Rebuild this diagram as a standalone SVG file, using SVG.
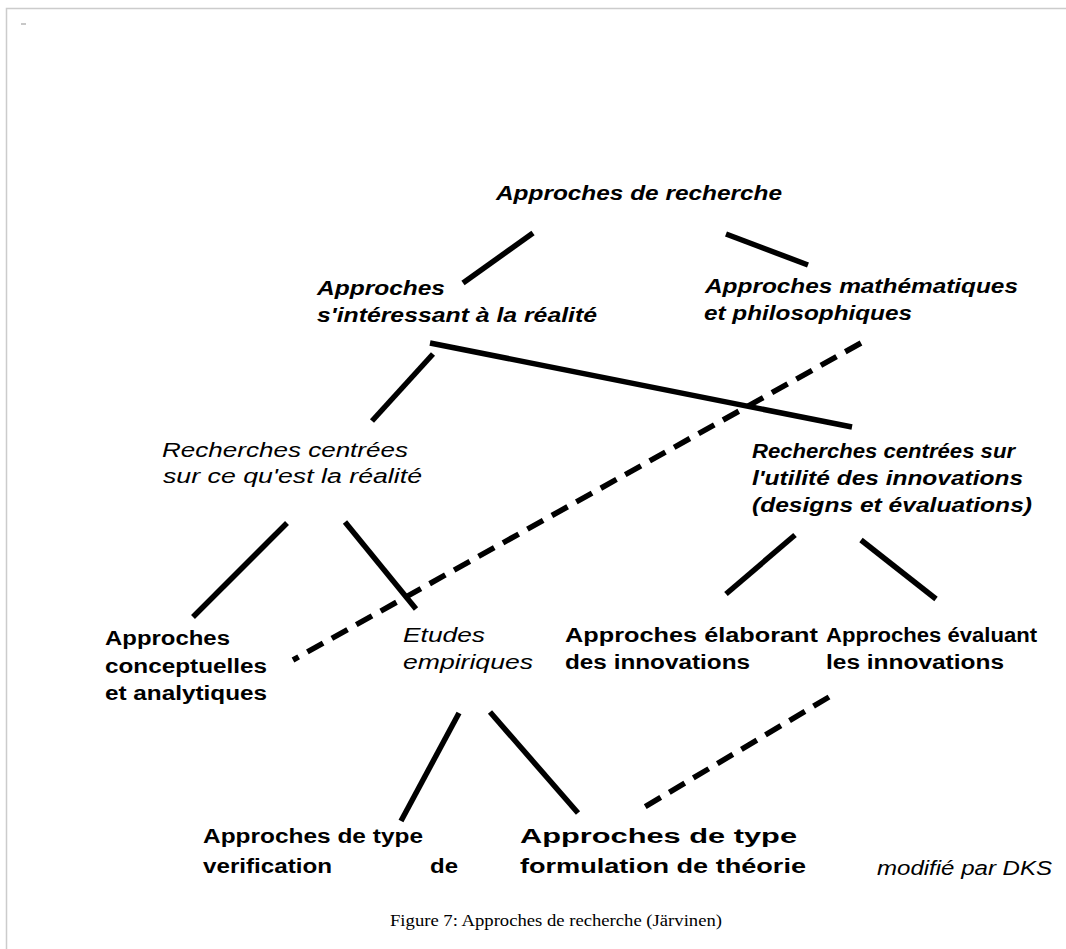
<svg xmlns="http://www.w3.org/2000/svg" width="1066" height="949" viewBox="0 0 1066 949">
  <style>
    .t { font-family: "Liberation Sans", Arial, sans-serif; font-size: 20px; fill: #000; }
    .bi { font-weight: bold; font-style: italic; }
    .i { font-style: italic; }
    .b { font-weight: bold; }
    .edge { stroke: #000; stroke-width: 5.5; fill: none; }
    .dash { stroke-dasharray: 18 10; }
    .cap { font-family: "Liberation Serif", "Times New Roman", serif; font-size: 16.5px; fill: #000; }
  </style>

  <!-- page frame -->
  <rect x="0" y="0" width="1066" height="949" fill="#fff"/>
  <path d="M6.5 949 V8.5 H1066" stroke="#cccccc" stroke-width="1.5" fill="none"/>
  <rect x="21" y="23" width="5" height="2" fill="#c8c8c8"/>

  <!-- connectors -->
  <g id="connectors">
    <line class="edge" x1="463" y1="283" x2="533" y2="233"/>
    <line class="edge" x1="726" y1="234" x2="808" y2="265"/>
    <line class="edge" x1="433" y1="354" x2="372" y2="421"/>
    <line class="edge" x1="430" y1="343" x2="852" y2="427"/>
    <line class="edge dash" x1="861" y1="343" x2="293" y2="660"/>
    <line class="edge" x1="287" y1="523" x2="193" y2="617"/>
    <line class="edge" x1="345" y1="522" x2="416" y2="609"/>
    <line class="edge" x1="795" y1="535" x2="726" y2="594"/>
    <line class="edge" x1="861" y1="540" x2="936" y2="599"/>
    <line class="edge" x1="459" y1="713" x2="401" y2="821"/>
    <line class="edge" x1="490" y1="712" x2="578" y2="813"/>
    <line class="edge dash" x1="829" y1="697" x2="638" y2="811"/>
  </g>

  <!-- nodes -->
  <g id="root">
    <text class="t bi" x="496" y="200" textLength="286" lengthAdjust="spacingAndGlyphs">Approches de recherche</text>
  </g>
  <g id="realite">
    <text class="t bi" x="317" y="295" textLength="128" lengthAdjust="spacingAndGlyphs">Approches</text>
    <text class="t bi" x="317" y="322" textLength="280" lengthAdjust="spacingAndGlyphs">s'intéressant à la réalité</text>
  </g>
  <g id="math-philo">
    <text class="t bi" x="705" y="293" textLength="313" lengthAdjust="spacingAndGlyphs">Approches mathématiques</text>
    <text class="t bi" x="704" y="320" textLength="208" lengthAdjust="spacingAndGlyphs">et philosophiques</text>
  </g>
  <g id="centrees-realite">
    <text class="t i" x="162" y="457" textLength="246" lengthAdjust="spacingAndGlyphs">Recherches centrées</text>
    <text class="t i" x="163" y="483" textLength="259" lengthAdjust="spacingAndGlyphs">sur ce qu'est la réalité</text>
  </g>
  <g id="centrees-utilite">
    <text class="t bi" x="752" y="458" textLength="263" lengthAdjust="spacingAndGlyphs">Recherches centrées sur</text>
    <text class="t bi" x="752" y="485" textLength="271" lengthAdjust="spacingAndGlyphs">l'utilité des innovations</text>
    <text class="t bi" x="752" y="512" textLength="280" lengthAdjust="spacingAndGlyphs">(designs et évaluations)</text>
  </g>
  <g id="conceptuelles">
    <text class="t b" x="105" y="645" textLength="125" lengthAdjust="spacingAndGlyphs">Approches</text>
    <text class="t b" x="105" y="673" textLength="162" lengthAdjust="spacingAndGlyphs">conceptuelles</text>
    <text class="t b" x="105" y="700" textLength="162" lengthAdjust="spacingAndGlyphs">et analytiques</text>
  </g>
  <g id="empiriques">
    <text class="t i" x="403" y="642" textLength="82" lengthAdjust="spacingAndGlyphs">Etudes</text>
    <text class="t i" x="403" y="669" textLength="130" lengthAdjust="spacingAndGlyphs">empiriques</text>
  </g>
  <g id="elaborant">
    <text class="t b" x="565" y="642" textLength="253" lengthAdjust="spacingAndGlyphs">Approches élaborant</text>
    <text class="t b" x="565" y="669" textLength="185" lengthAdjust="spacingAndGlyphs">des innovations</text>
  </g>
  <g id="evaluant">
    <text class="t b" x="826" y="642" textLength="211" lengthAdjust="spacingAndGlyphs">Approches évaluant</text>
    <text class="t b" x="826" y="669" textLength="178" lengthAdjust="spacingAndGlyphs">les innovations</text>
  </g>
  <g id="verification">
    <text class="t b" x="203" y="843" textLength="220" lengthAdjust="spacingAndGlyphs">Approches de type</text>
    <text class="t b" x="203" y="873" textLength="129" lengthAdjust="spacingAndGlyphs">verification</text>
    <text class="t b" x="430" y="873" textLength="28" lengthAdjust="spacingAndGlyphs">de</text>
  </g>
  <g id="formulation">
    <text class="t b" x="520" y="843" textLength="277" lengthAdjust="spacingAndGlyphs">Approches de type</text>
    <text class="t b" x="520" y="873" textLength="286" lengthAdjust="spacingAndGlyphs">formulation de théorie</text>
  </g>
  <g id="credit">
    <text class="t i" x="877" y="875" textLength="175" lengthAdjust="spacingAndGlyphs">modifié par DKS</text>
  </g>

  <!-- figure caption -->
  <text class="cap" x="390" y="926" textLength="332" lengthAdjust="spacingAndGlyphs">Figure 7: Approches de recherche (Järvinen)</text>
</svg>
